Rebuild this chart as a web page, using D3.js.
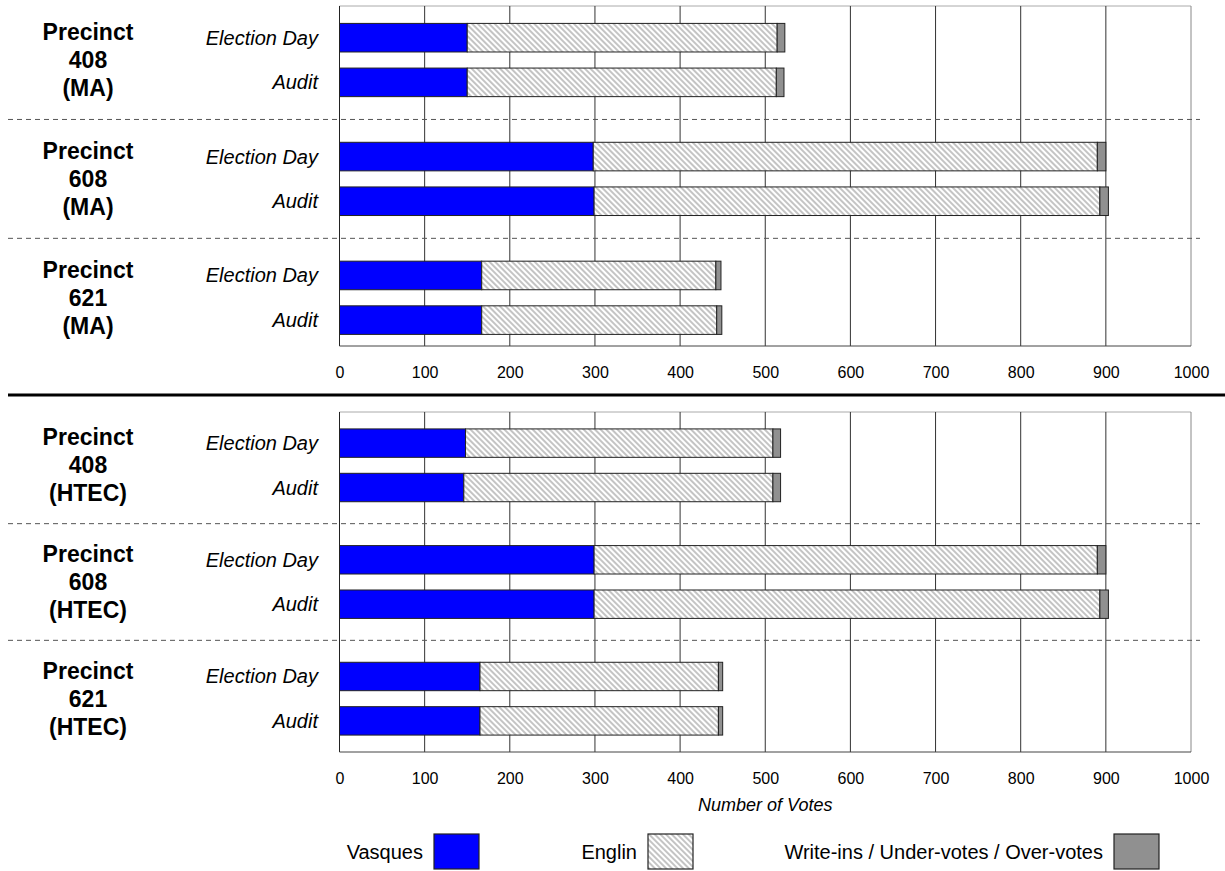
<!DOCTYPE html>
<html lang="en">
<head>
    <meta charset="UTF-8">
    <title>Precinct Votes - Election Day vs Audit</title>
    <script src="https://d3js.org/d3.v7.min.js"></script>
    <style>
        body { margin: 0; background: #fff; }
        text { font-family: "Liberation Sans", Arial, sans-serif; fill: #000; }
    </style>
</head>
<body>
<script>
// rows: 408 ED, 408 Audit, 608 ED, 608 Audit, 621 ED, 621 Audit
var precincts = ["408", "608", "621"];
var rounds = ["Election Day", "Audit"];
var panels = ["MA", "HTEC"];

var maVasques   = [150, 150, 298, 299, 167, 167];
var maEnglin    = [364, 363, 592, 594, 275, 276];
var maOther     = [9, 9, 10, 10, 6, 6];

var htecVasques = [148, 146, 299, 299, 165, 165];
var htecEnglin  = [361, 363, 591, 594, 280, 280];
var htecOther   = [9, 9, 10, 10, 5, 5];

var xTicks = [0, 100, 200, 300, 400, 500, 600, 700, 800, 900, 1000];
var seriesNames = ["Vasques", "Englin", "Write-ins / Under-votes / Over-votes"];

var width = 1225, height = 871;
var left = 339.5, right = 1191;

var svg = d3.select("body").append("svg")
    .attr("width", width)
    .attr("height", height);

var defs = svg.append("defs");
var pat = defs.append("pattern")
    .attr("id", "hatch")
    .attr("patternUnits", "userSpaceOnUse")
    .attr("width", 4).attr("height", 4)
    .attr("patternTransform", "rotate(-45)");
pat.append("rect").attr("width", 4).attr("height", 4).attr("fill", "#fff");
pat.append("line")
    .attr("x1", 1).attr("y1", 0).attr("x2", 1).attr("y2", 4)
    .attr("stroke", "#b5b5b5").attr("stroke-width", 1.6);

var fills = ["#0000ff", "url(#hatch)", "#909090"];

var x = d3.scaleLinear().domain([0, 1000]).range([left, right]);

// band layout per panel (outer padding / alignment differ a little)
var panelData = {
    MA:   {vasques: maVasques, englin: maEnglin, other: maOther,
           top: 6, bottom: 346, padIn: 0.384, padOut: 0.122, align: 0.6},
    HTEC: {vasques: htecVasques, englin: htecEnglin, other: htecOther,
           top: 412, bottom: 752, padIn: 0.376, padOut: 0.145, align: 0.5}
};

panels.forEach(function(p) {
    var pd = panelData[p];
    var g = svg.append("g");

    var groupY = d3.scaleBand().domain(precincts)
        .range([pd.top, pd.bottom])
        .paddingInner(pd.padIn).paddingOuter(pd.padOut).align(pd.align);
    var rowY = d3.scaleBand().domain(rounds)
        .range([0, groupY.bandwidth()])
        .paddingInner(0.36);

    var rows = [];
    precincts.forEach(function(pr, i) {
        rounds.forEach(function(r, j) {
            var k = i * 2 + j;
            rows.push({precinct: pr, round: r,
                v: pd.vasques[k], e: pd.englin[k], o: pd.other[k]});
        });
    });
    var stacked = d3.stack().keys(["v", "e", "o"])(rows);

    // frame (top/right light, left/bottom dark)
    g.append("line").attr("x1", left).attr("x2", right).attr("y1", pd.top).attr("y2", pd.top)
        .attr("stroke", "#aaa");
    g.append("line").attr("x1", right).attr("x2", right).attr("y1", pd.top).attr("y2", pd.bottom)
        .attr("stroke", "#888");

    // vertical gridlines
    g.selectAll(".grid").data(xTicks.slice(1, -1)).enter()
        .append("line")
        .attr("x1", function(d) { return x(d); })
        .attr("x2", function(d) { return x(d); })
        .attr("y1", pd.top).attr("y2", pd.bottom)
        .attr("stroke", "#333").attr("stroke-width", 1);

    // dashed separators between precincts
    g.selectAll(".sep").data(precincts.slice(0, -1)).enter()
        .append("line")
        .attr("x1", 8).attr("x2", 1200)
        .attr("y1", function(d) { return groupY(d) + groupY.bandwidth() + groupY.step() * groupY.paddingInner() / 2; })
        .attr("y2", function(d) { return groupY(d) + groupY.bandwidth() + groupY.step() * groupY.paddingInner() / 2; })
        .attr("stroke", "#555").attr("stroke-dasharray", "5,4");

    // bars
    g.selectAll(".layer").data(stacked).enter()
        .append("g")
        .attr("fill", function(d, i) { return fills[i]; })
        .selectAll("rect").data(function(d) { return d; }).enter()
        .append("rect")
        .attr("x", function(d) { return x(d[0]); })
        .attr("y", function(d) { return groupY(d.data.precinct) + rowY(d.data.round); })
        .attr("width", function(d) { return x(d[1]) - x(d[0]); })
        .attr("height", rowY.bandwidth())
        .attr("stroke", "#222").attr("stroke-width", 1);

    g.append("line").attr("x1", left).attr("x2", left).attr("y1", pd.top).attr("y2", pd.bottom)
        .attr("stroke", "#222");
    g.append("line").attr("x1", left).attr("x2", right).attr("y1", pd.bottom).attr("y2", pd.bottom)
        .attr("stroke", "#444");

    // x axis labels
    var axis = g.append("g")
        .attr("transform", "translate(0," + pd.bottom + ")")
        .call(d3.axisBottom(x).tickValues(xTicks).tickFormat(d3.format("d"))
            .tickSize(0).tickPadding(21));
    axis.select(".domain").remove();
    axis.selectAll("text")
        .style("font-family", "'Liberation Sans', Arial, sans-serif")
        .style("font-size", "16px").attr("fill", "#000");

    // row labels
    g.selectAll(".rowlab").data(rows).enter()
        .append("text")
        .attr("x", 318)
        .attr("y", function(d) { return groupY(d.precinct) + rowY(d.round) + rowY.bandwidth() / 2; })
        .attr("dy", "0.35em")
        .attr("text-anchor", "end")
        .style("font-size", "20px").style("font-style", "italic")
        .text(function(d) { return d.round; });

    // precinct labels
    var pl = g.selectAll(".plab").data(precincts).enter()
        .append("text")
        .attr("text-anchor", "middle")
        .style("font-size", "23px").style("font-weight", "bold");
    pl.each(function(d) {
        var cy = groupY(d) + groupY.bandwidth() / 2;
        var t = d3.select(this);
        ["Precinct", d, "(" + p + ")"].forEach(function(s, i) {
            t.append("tspan").attr("x", 88).attr("y", cy + (i - 1) * 28)
                .attr("dy", "0.35em").text(s);
        });
    });
});

// thick separator between the two panels
svg.append("line").attr("x1", 8).attr("x2", 1225).attr("y1", 395).attr("y2", 395)
    .attr("stroke", "#000").attr("stroke-width", 3);

// axis title
svg.append("text")
    .attr("x", (left + right) / 2).attr("y", 805)
    .attr("dy", "0.35em").attr("text-anchor", "middle")
    .style("font-size", "18px").style("font-style", "italic")
    .text("Number of Votes");

// legend
var legendEnds = [423, 637, 1103];
var legend = svg.append("g").selectAll("g").data(seriesNames).enter().append("g");
legend.append("text")
    .attr("x", function(d, i) { return legendEnds[i]; })
    .attr("y", 852).attr("dy", "0.35em")
    .attr("text-anchor", "end")
    .style("font-size", "20px")
    .text(function(d) { return d; });
legend.append("rect")
    .attr("x", function(d, i) { return legendEnds[i] + 11; })
    .attr("y", 834).attr("width", 45).attr("height", 35)
    .attr("fill", function(d, i) { return fills[i]; })
    .attr("stroke", "#222").attr("stroke-width", 1.2);
</script>
</body>
</html>
